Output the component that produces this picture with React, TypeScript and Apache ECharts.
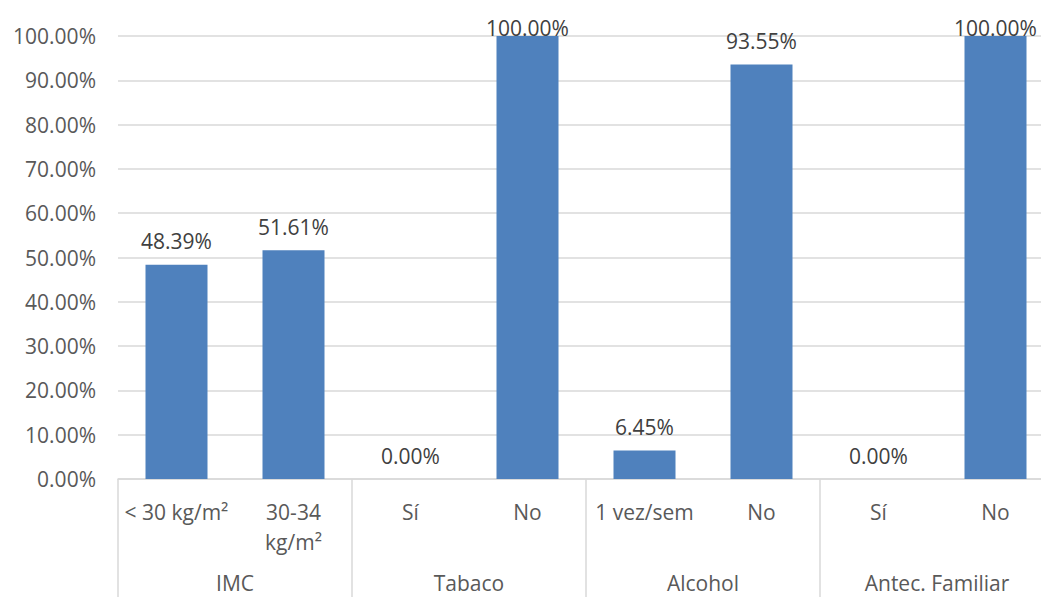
import React, { useEffect, useRef } from "react";
import * as echarts from "echarts";

const categories = ["< 30 kg/m²", "30-34\nkg/m²", "Sí", "No", "1 vez/sem", "No", "Sí", "No"];
const groups = ["IMC", "Tabaco", "Alcohol", "Antec. Familiar"];
const values = [48.39, 51.61, 0, 100, 6.45, 93.55, 0, 100];
const yTicks = [0, 10, 20, 30, 40, 50, 60, 70, 80, 90, 100];

const FONT = "'Open Sans', 'Liberation Sans', sans-serif";
const FS = 21;

export default function App() {
  const ref = useRef<HTMLDivElement>(null);
  useEffect(() => {
    if (!ref.current) return;
    const chart = echarts.init(ref.current, undefined, { renderer: "svg" });
    chart.setOption({
      animation: false,
      grid: { left: 118, top: 36, right: 10, height: 443, containLabel: false },
      xAxis: [
        {
          type: "category",
          data: categories,
          position: "bottom",
          axisLine: { show: true, lineStyle: { color: "#D9D9D9", width: 1.5 } },
          axisTick: { show: false },
          axisLabel: {
            interval: 0,
            margin: 18,
            color: "#595959",
            fontFamily: FONT,
            fontSize: FS,
            lineHeight: 30,
          },
        },
        {
          type: "category",
          data: groups,
          position: "bottom",
          axisLine: { show: false },
          axisTick: { show: true, length: 130, interval: 0, lineStyle: { color: "#D9D9D9", width: 1.5 } },
          axisLabel: {
            interval: 0,
            margin: 92,
            color: "#595959",
            fontFamily: FONT,
            fontSize: FS,
            lineHeight: 24,
          },
        },
      ],
      yAxis: {
        type: "value",
        min: 0,
        max: 100,
        interval: 10,
        axisLine: { show: false },
        axisTick: { show: false },
        splitLine: { lineStyle: { color: "#D9D9D9", width: 1.5 } },
        axisLabel: {
          margin: 22,
          color: "#595959",
          fontFamily: FONT,
          fontSize: FS,
          formatter: (v: number) => (yTicks.includes(v) ? v.toFixed(2) + "%" : ""),
        },
      },
      series: [
        {
          type: "bar",
          xAxisIndex: 0,
          barWidth: 62,
          itemStyle: { color: "#4F81BD" },
          label: {
            show: true,
            position: "top",
            distance: 13,
            color: "#404040",
            fontFamily: FONT,
            fontSize: FS,
            formatter: (p: any) => Number(p.value).toFixed(2) + "%",
          },
          data: values.map((v) =>
            v >= 100 ? { value: v, label: { distance: -2 } } : v
          ),
        },
      ],
    });
    return () => chart.dispose();
  }, []);
  return (
    <div style={{ position: "absolute", left: 0, top: 0, width: 1041, height: 597, overflow: "hidden" }}>
      <div ref={ref} style={{ width: 1064, height: 597 }} />
    </div>
  );
}
